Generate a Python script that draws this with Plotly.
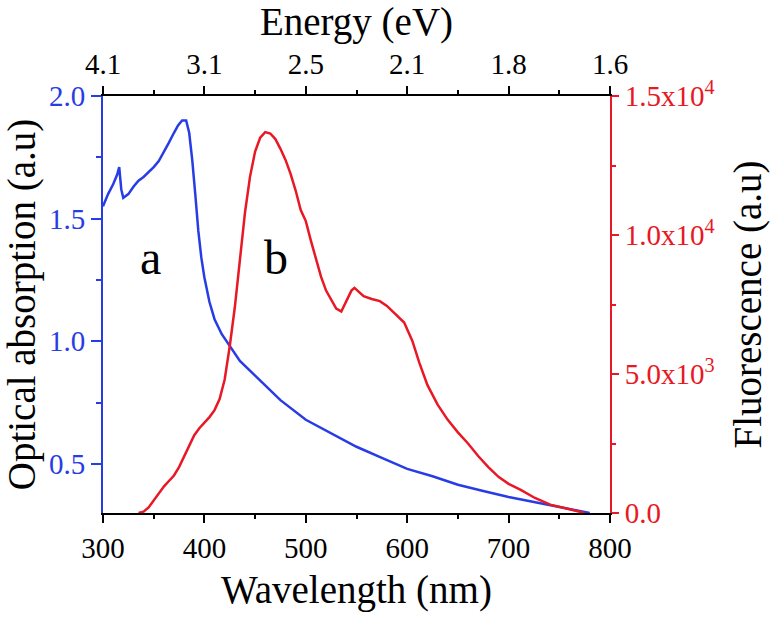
import plotly.graph_objects as go

# Absorption (left axis)
abs_wl = [300, 305, 310, 314, 316, 318, 320, 325, 330, 335, 340, 345, 350, 355, 360, 365, 370, 374, 378, 382,
          385, 388, 391, 394, 397, 400, 405, 410, 417, 425, 435, 450, 475, 500, 525, 550, 575, 600, 625, 650,
          675, 700, 725, 750, 765, 780]
abs_val = [1.55, 1.60, 1.64, 1.68, 1.71, 1.62, 1.585, 1.60, 1.63, 1.655, 1.67, 1.69, 1.71, 1.735, 1.77, 1.81, 1.85, 1.88, 1.90, 1.90,
           1.85, 1.74, 1.60, 1.45, 1.34, 1.26, 1.16, 1.09, 1.03, 0.98, 0.92, 0.86, 0.76, 0.68, 0.625, 0.57, 0.525, 0.48, 0.45, 0.415,
           0.39, 0.365, 0.345, 0.325, 0.31, 0.30]

# Fluorescence (right axis)
fl_wl = [335, 340, 345, 350, 355, 360, 365, 370, 375, 380, 385, 390, 395, 400, 405, 410, 415, 420, 425, 430,
         435, 440, 445, 450, 455, 460, 465, 470, 475, 480, 485, 490, 495, 500, 505, 510, 515, 520, 525, 530,
         535, 540, 545, 548, 552, 557, 565, 573, 580, 590, 597, 605, 612, 620, 630, 640, 650, 660, 670, 680,
         690, 700, 712, 726, 741, 755, 765, 775]
fl_val = [0, 50, 200, 450, 700, 950, 1150, 1350, 1650, 2050, 2450, 2800, 3050, 3250, 3450, 3700, 4100, 4800, 6000, 7400,
          9100, 10800, 12100, 13000, 13500, 13700, 13650, 13450, 13100, 12700, 12200, 11600, 10900, 10500, 9800, 9100, 8500, 8000, 7650, 7350,
          7250, 7600, 8000, 8100, 7950, 7800, 7700, 7620, 7450, 7100, 6850, 6200, 5400, 4600, 3900, 3350, 2900, 2500, 2050, 1650,
          1300, 1050, 830, 540, 300, 180, 80, 0]

wl_ticks = [300, 400, 500, 600, 700, 800]
energy_labels = ["4.1", "3.1", "2.5", "2.1", "1.8", "1.6"]
abs_ticks = [0.5, 1.0, 1.5, 2.0]
abs_labels = ["0.5", "1.0", "1.5", "2.0"]
fl_ticks = [0, 5000, 10000, 15000]
fl_labels = ["0.0", "5.0x10<sup>3</sup>", "1.0x10<sup>4</sup>", "1.5x10<sup>4</sup>"]

BLUE = "rgb(40,60,230)"
RED = "rgb(232,24,36)"
FONT = "Liberation Serif, Times New Roman, serif"
TICKF = 29
TITLEF = 39

fig = go.Figure()
fig.add_trace(go.Scatter(x=abs_wl, y=abs_val, mode="lines", line=dict(color=BLUE, width=2.5),
                         xaxis="x", yaxis="y", showlegend=False, hoverinfo="skip"))
fig.add_trace(go.Scatter(x=fl_wl, y=fl_val, mode="lines", line=dict(color=RED, width=2.5),
                         xaxis="x", yaxis="y2", showlegend=False, hoverinfo="skip"))
fig.add_trace(go.Scatter(x=[300, 800], y=[1, 1], mode="markers", marker=dict(opacity=0),
                         xaxis="x2", yaxis="y", showlegend=False, hoverinfo="skip"))

fig.update_layout(
    width=774, height=619,
    margin=dict(l=100, r=161, t=95, b=106),
    paper_bgcolor="white", plot_bgcolor="white",
    font=dict(family=FONT, size=TICKF, color="black"),
    hovermode=False,
    xaxis=dict(range=[300, 800], tickvals=wl_ticks, showline=True, linecolor="black", linewidth=2,
               ticks="outside", ticklen=8, tickwidth=2, tickcolor="black",
               minor=dict(dtick=50, tick0=300, ticks="outside", ticklen=4, tickwidth=2, tickcolor="black"),
               showgrid=False, zeroline=False, anchor="y",
               tickfont=dict(size=TICKF, color="black"),
               title=dict(text="Wavelength (nm)", font=dict(size=TITLEF, color="black"), standoff=13)),
    xaxis2=dict(range=[300, 800], overlaying="x", side="top", anchor="y", tickvals=wl_ticks, ticktext=energy_labels,
                showline=True, linecolor="black", linewidth=2,
                ticks="outside", ticklen=8, tickwidth=2, tickcolor="black",
                minor=dict(dtick=50, tick0=300, ticks="outside", ticklen=4, tickwidth=2, tickcolor="black"),
                showgrid=False, zeroline=False,
                tickfont=dict(size=TICKF, color="black"),
                title=dict(text="Energy (eV)", font=dict(size=TITLEF, color="black"), standoff=9)),
    yaxis=dict(range=[0.3, 2.0], tickvals=abs_ticks, ticktext=abs_labels,
               showline=True, linecolor=BLUE, linewidth=2,
               ticks="outside", ticklen=10, tickwidth=2, tickcolor=BLUE,
               minor=dict(tickvals=[0.75, 1.25, 1.75], ticks="outside", ticklen=5, tickwidth=2, tickcolor=BLUE),
               showgrid=False, zeroline=False, anchor="x",
               tickfont=dict(size=TICKF, color=BLUE),
               title=dict(text="Optical absorption (a.u)", font=dict(size=TITLEF, color="black"), standoff=10)),
    yaxis2=dict(range=[0, 15000], overlaying="y", side="right", anchor="x", tickvals=fl_ticks, ticktext=fl_labels,
                showline=True, linecolor=RED, linewidth=2,
                ticks="outside", ticklen=7, tickwidth=2, tickcolor=RED,
                minor=dict(tickvals=[2500, 7500, 12500], ticks="outside", ticklen=4, tickwidth=2, tickcolor=RED),
                showgrid=False, zeroline=False,
                tickfont=dict(size=TICKF, color=RED),
                title=dict(text="Fluorescence (a.u)", font=dict(size=TITLEF, color="black"), standoff=20)),
    annotations=[
        dict(x=347, y=1.34, xref="x", yref="y", text="a", showarrow=False, font=dict(size=48, color="black", family=FONT)),
        dict(x=471, y=1.34, xref="x", yref="y", text="b", showarrow=False, font=dict(size=48, color="black", family=FONT)),
    ],
)

fig.write_html("out.html", config={"displayModeBar": False},
               post_script="document.body.style.margin='0';")
